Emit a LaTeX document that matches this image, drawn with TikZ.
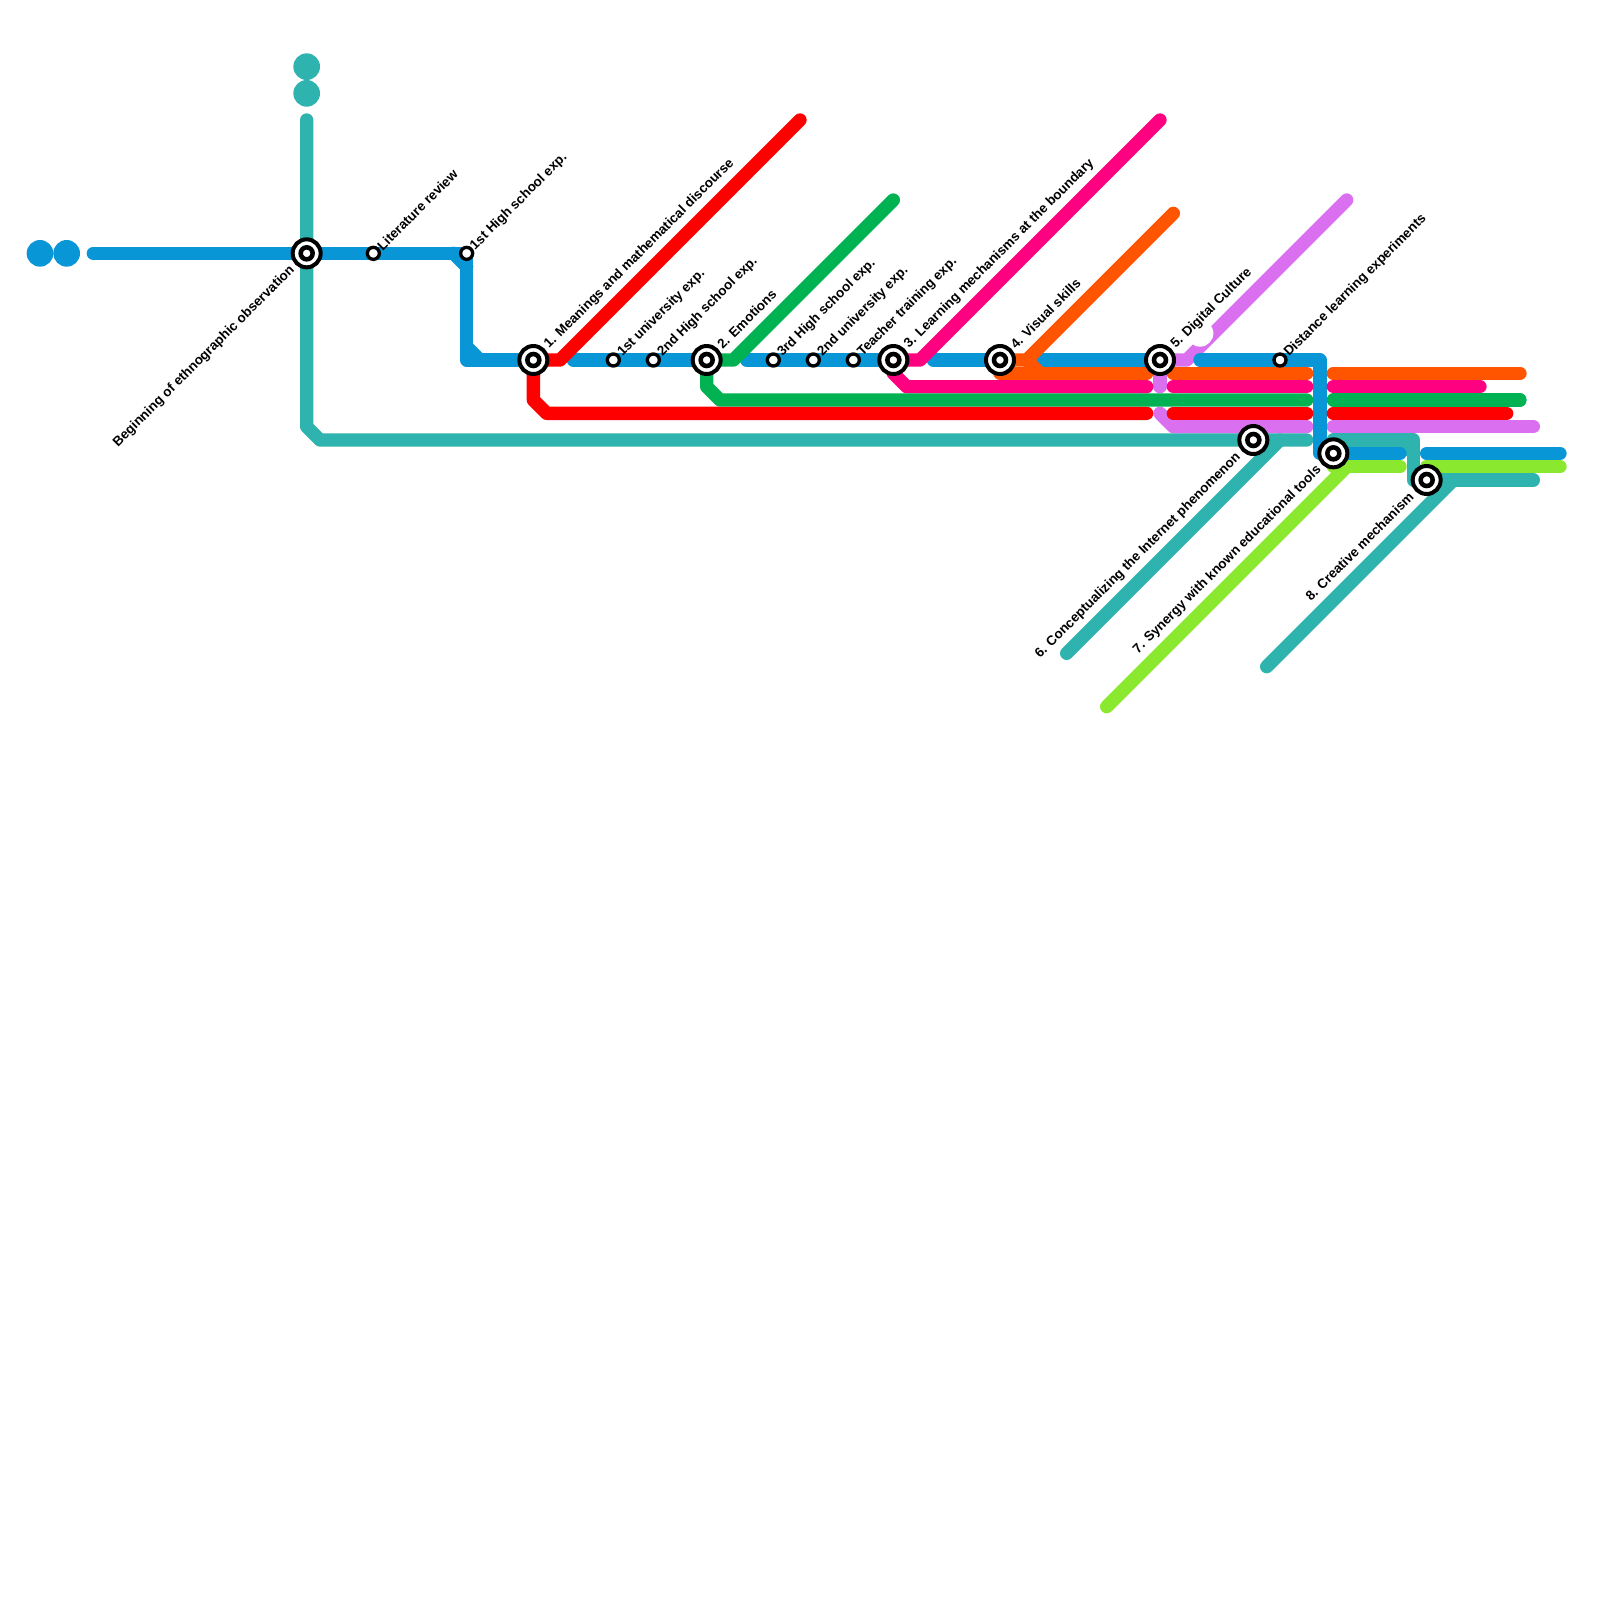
\documentclass[tikz,border=0pt]{standalone}
\usepackage{fontspec}
\setmainfont{Liberation Sans}
\definecolor{lblue}{HTML}{0896D7}
\definecolor{lteal}{HTML}{2FB3AF}
\definecolor{lred}{HTML}{FF0000}
\definecolor{lgreen}{HTML}{00B251}
\definecolor{lpink}{HTML}{FF0080}
\definecolor{lorange}{HTML}{FF5400}
\definecolor{lviolet}{HTML}{DA70F0}
\definecolor{llime}{HTML}{8AE82E}
\tikzset{
  metro/.style={line width=0.5cm,line cap=round,line join=round},
  bigst/.style={circle,draw=black,fill=white,line width=.15cm,minimum size=1.05cm,inner sep=0pt,outer sep=0pt},
  bigin/.style={circle,draw=black,fill=white,line width=.17cm,minimum size=.45cm,inner sep=0pt,outer sep=0pt},
  smallst/.style={circle,draw=black,fill=white,line width=.125cm,minimum size=.45cm,inner sep=0pt,outer sep=0pt},
  lab/.style={rotate=45,inner sep=0pt,font=\fontsize{14.3pt}{16pt}\selectfont\bfseries},
  labr/.style={lab,anchor=west},
  labl/.style={lab,anchor=east},
  termdot/.style={circle,minimum size=1cm,inner sep=0pt,outer sep=0pt},
}
\begin{document}
\begin{tikzpicture}[x=0.5cm,y=-0.5cm]
\useasboundingbox (0,0) rectangle (120,120);
\fill[white] (0,0) rectangle (120,120);
% stations and free ends
\coordinate (s0) at (23,19);
\coordinate (c1) at (28,19);
\coordinate (c2) at (35,19);
\coordinate (s1) at (40,27);
\coordinate (c3) at (46,27);
\coordinate (c4) at (49,27);
\coordinate (s2) at (53,27);
\coordinate (c5) at (58,27);
\coordinate (c6) at (61,27);
\coordinate (c7) at (64,27);
\coordinate (s3) at (67,27);
\coordinate (s4) at (75,27);
\coordinate (s5) at (87,27);
\coordinate (c8) at (96,27);
\coordinate (s6) at (94,33);
\coordinate (s7) at (100,34);
\coordinate (s8) at (107,36);
\coordinate (tealtop) at (23,9);
\coordinate (tealend) at (98,33);
\coordinate (bluestart) at (7,19);
\coordinate (redend) at (60,9);
\coordinate (greenend) at (67,15);
\coordinate (pinkend) at (87,9);
\coordinate (orangeend) at (88,16);
\coordinate (violetend) at (101,15);
\coordinate (teal6end) at (80,49);
\coordinate (lime7end) at (83,53);
\coordinate (teal8end) at (95,50);
% terminal dots
\node[termdot,fill=lblue] (bd1) at (3,19) {};
\node[termdot,fill=lblue] (bd2) at (5,19) {};
\node[termdot,fill=lteal] (td1) at (23,5) {};
\node[termdot,fill=lteal] (td2) at (23,7) {};
% violet
\draw[metro,lviolet] (s5) -- (89,27) -- (violetend);
\draw[metro,lviolet] (87,28) -- (87,29);
\draw[metro,lviolet] (87,31) -- (88,32) -- (98,32);
\draw[metro,lviolet] (100,32) -- (115,32);
\fill[white] (90,25) circle[radius=.5cm];
% teal
\draw[metro,lteal] (tealtop) -- (23,32) -- (24,33) -- (tealend);
\draw[metro,lteal] (96,33) -- (teal6end);
\draw[metro,lteal] (100,33) -- (106,33) -- (106,36) -- (s8);
\draw[metro,lteal] (105,33) -- (106,34);
\draw[metro,lteal] (s8) -- (115,36);
\draw[metro,lteal] (109,36) -- (teal8end);
% blue
\draw[metro,lblue] (bluestart) -- (s0) -- (c1) -- (c2) -- (35,27) -- (s1);
\draw[metro,lblue] (34,19) -- (35,20);
\draw[metro,lblue] (35,26) -- (36,27);
\draw[metro,lblue] (43,27) -- (c3) -- (c4) -- (s2);
\draw[metro,lblue] (56,27) -- (c5) -- (c6) -- (c7) -- (s3);
\draw[metro,lblue] (70,27) -- (s4);
\draw[metro,lblue] (78,27) -- (s5);
\draw[metro,lblue] (90,27) -- (c8) -- (99,27) -- (99,34) -- (s7) -- (105,34);
\draw[metro,lblue] (107,34) -- (117,34);
% red
\draw[metro,lred] (s1) -- (42,27) -- (redend);
\draw[metro,lred] (s1) -- (40,30) -- (41,31) -- (86,31);
\draw[metro,lred] (88,31) -- (98,31);
\draw[metro,lred] (100,31) -- (113,31);
% pink
\draw[metro,lpink] (s3) -- (69,27) -- (pinkend);
\draw[metro,lpink] (s3) -- (67,28) -- (68,29) -- (86,29);
\draw[metro,lpink] (88,29) -- (98,29);
\draw[metro,lpink] (100,29) -- (111,29);
% orange
\draw[metro,lorange] (s4) -- (77,27) -- (orangeend);
\draw[metro,lorange] (75,28) -- (86,28);
\draw[metro,lorange] (77,27) -- (78,28);
\draw[metro,lorange] (88,28) -- (98,28);
\draw[metro,lorange] (100,28) -- (114,28);
% green
\draw[metro,lgreen] (s2) -- (55,27) -- (greenend);
\draw[metro,lgreen] (s2) -- (53,29) -- (54,30) -- (98,30);
\draw[metro,lgreen] (100,30) -- (114,30);
% lime
\draw[metro,llime] (100,35) -- (105,35);
\draw[metro,llime] (101,35) -- (lime7end);
\draw[metro,llime] (107,35) -- (117,35);
% station symbols
\foreach \n in {s0,s1,s2,s3,s4,s5,s6,s7,s8}{
  \node[bigst] (\n big) at (\n) {};
  \node[bigin] (\n in) at (\n) {};
}
\foreach \n in {c1,c2,c3,c4,c5,c6,c7,c8}{
  \node[smallst] (\n st) at (\n) {};
}
% labels
\node[labl] (l0) at (21.95,20.1) {Beginning of ethnographic observation};
\node[labr] (l1) at (28.45,18.6) {Literature review};
\node[labr] (l2) at (35.45,18.6) {1st High school exp.};
\node[labr] (l3) at (41,26) {1. Meanings and mathematical discourse};
\node[labr] (l4) at (46.5,26.6) {1st university exp.};
\node[labr] (l5) at (49.5,26.6) {2nd High school exp.};
\node[labr] (l6) at (53.95,26) {2. Emotions};
\node[labr] (l7) at (58.5,26.6) {3rd High school exp.};
\node[labr] (l8) at (61.5,26.6) {2nd university exp.};
\node[labr] (l9) at (64.5,26.6) {Teacher training exp.};
\node[labr] (l10) at (68,26) {3. Learning mechanisms at the boundary};
\node[labr] (l11) at (75.95,26) {4. Visual skills};
\node[labr] (l12) at (88,26) {5. Digital Culture};
\node[labr] (l13) at (96.5,26.6) {Distance learning experiments};
\node[labl] (l14) at (92.9,34.15) {6. Conceptualizing the Internet phenomenon};
\node[labl] (l15) at (98.95,35.1) {7. Synergy with known educational tools};
\node[labl] (l16) at (105.85,37.1) {8. Creative mechanism};
\end{tikzpicture}
\end{document}
